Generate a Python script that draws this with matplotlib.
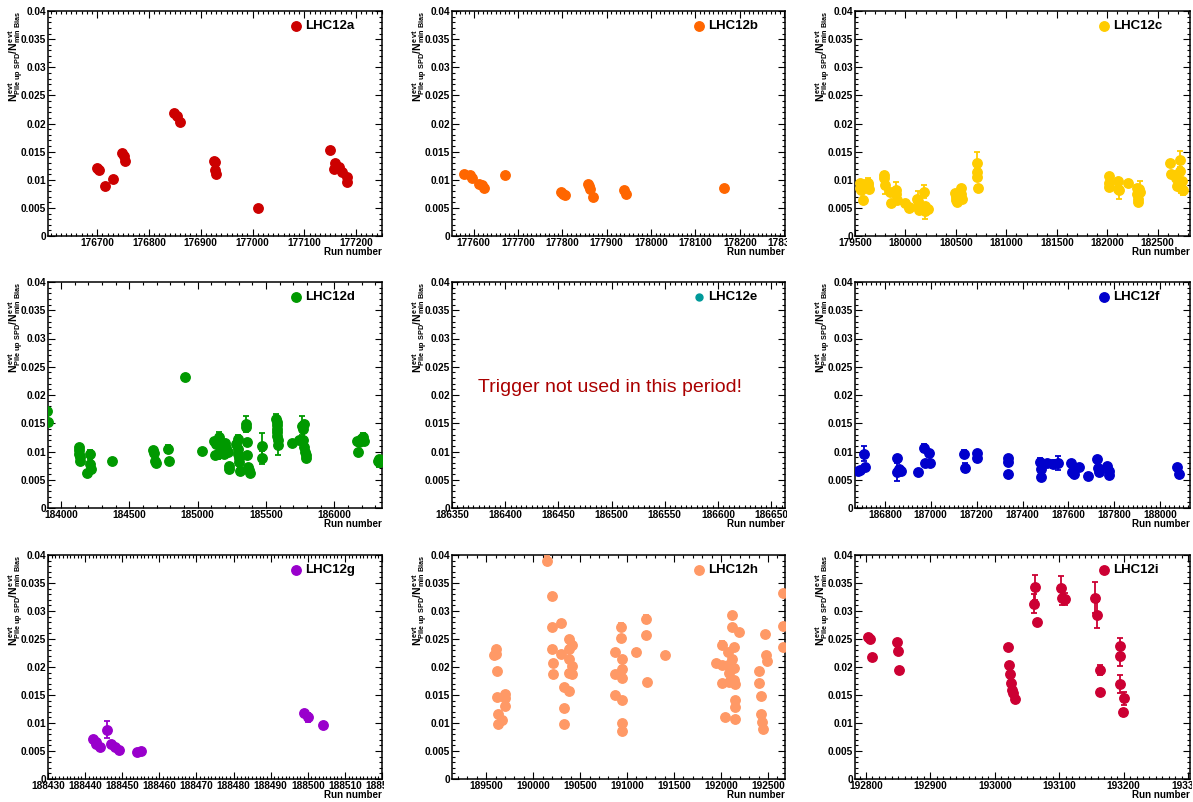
import matplotlib
matplotlib.use('Agg')
from matplotlib import pyplot as plt
from matplotlib.ticker import MultipleLocator, FuncFormatter
from matplotlib.transforms import Bbox

# ---------------- data ----------------
# LHC12a
runs_a = [176700, 176704, 176715, 176730, 176748, 176752, 176753, 176848, 176854, 176860,
          176925, 176927, 176928, 176930, 177011, 177149, 177157, 177160, 177167, 177173,
          177182, 177183]
vals_a = [0.0121, 0.0117, 0.0089, 0.0101, 0.0147, 0.0143, 0.0134, 0.0219, 0.0213, 0.0202,
          0.0133, 0.0131, 0.0117, 0.0110, 0.0050, 0.0153, 0.0120, 0.0129, 0.0123, 0.0113,
          0.0105, 0.0096]
errs_a = [0.0002, 0.0002, 0.0002, 0.0002, 0.0002, 0.0002, 0.0002, 0.0002, 0.0002, 0.0002,
          0.0002, 0.0002, 0.0002, 0.0002, 0.0002, 0.0002, 0.0002, 0.0002, 0.0002, 0.0002,
          0.0002, 0.0002]

# LHC12b
runs_b = [177579, 177591, 177596, 177611, 177619, 177623, 177671, 177797, 177801, 177805,
          177858, 177861, 177862, 177870, 177938, 177943, 178164]
vals_b = [0.0111, 0.0108, 0.0103, 0.0093, 0.0090, 0.0086, 0.0109, 0.0078, 0.0075, 0.0073,
          0.0093, 0.0089, 0.0083, 0.0069, 0.0082, 0.0074, 0.0085]
errs_b = [0.0002, 0.0002, 0.0002, 0.0002, 0.0002, 0.0002, 0.0002, 0.0002, 0.0002, 0.0002,
          0.0002, 0.0002, 0.0002, 0.0002, 0.0002, 0.0002, 0.0002]

# LHC12c
runs_c = [179546, 179553, 179560, 179579, 179599, 179616, 179626, 179632, 179639,
          179788, 179790, 179795,
          179848, 179854, 179904, 179908, 179912,
          179993, 180036, 180040,
          180112, 180120, 180125, 180136, 180188, 180195, 180192, 180225,
          180493, 180500, 180503, 180506, 180549, 180552, 180559,
          180711, 180711, 180713, 180715,
          182016, 182016, 182022,
          182105, 182105, 182112,
          182208,
          182297, 182312, 182297, 182303, 182305, 182320,
          182618, 182635, 182668, 182684, 182691, 182717, 182724, 182734, 182744, 182750]
vals_c = [0.0095, 0.0086, 0.0081, 0.0064, 0.0092, 0.0089, 0.0095, 0.0091, 0.0084,
          0.0108, 0.0103, 0.0090,
          0.0078, 0.0059, 0.0081, 0.0075, 0.0064,
          0.0059, 0.0052, 0.0050,
          0.0066, 0.0062, 0.0051, 0.0046, 0.0079, 0.0054, 0.0044, 0.0048,
          0.0076, 0.0069, 0.0064, 0.0060, 0.0085, 0.0075, 0.0066,
          0.0129, 0.0113, 0.0105, 0.0086,
          0.0106, 0.0095, 0.0088,
          0.0097, 0.0084, 0.0081,
          0.0094,
          0.0086, 0.0084, 0.0075, 0.0066, 0.0060, 0.0078,
          0.0129, 0.0110, 0.0109, 0.0104, 0.0089, 0.0136, 0.0116, 0.0086, 0.0098, 0.0081]
errs_c = [0.0003, 0.0003, 0.0003, 0.0003, 0.0004, 0.0003, 0.0009, 0.0004, 0.0004,
          0.0005, 0.0004, 0.0016,
          0.0003, 0.0003, 0.0015, 0.0005, 0.0004,
          0.0002, 0.0004, 0.0003,
          0.0004, 0.0018, 0.0004, 0.0005, 0.0011, 0.0005, 0.0013, 0.0004,
          0.0003, 0.0003, 0.0003, 0.0003, 0.0003, 0.0003, 0.0003,
          0.0021, 0.0006, 0.0005, 0.0004,
          0.0005, 0.0004, 0.0004,
          0.0004, 0.0005, 0.0016,
          0.0002,
          0.0004, 0.0004, 0.0004, 0.0004, 0.0004, 0.0020,
          0.0003, 0.0004, 0.0004, 0.0005, 0.0004, 0.0016, 0.0006, 0.0010, 0.0006, 0.0008]

# LHC12d
runs_d = [183901, 183906, 184130, 184133, 184135, 184138, 184140, 184189, 184209, 184214,
          184218, 184375, 184675, 184680, 184687, 184694, 184785, 184788, 184910, 185033,
          185117, 185124, 185136, 185146, 185158, 185166, 185178, 185190, 185202, 185210,
          185220, 185227, 185232,
          185283, 185293, 185296, 185298, 185300, 185303, 185308,
          185355, 185357, 185360, 185362, 185367, 185374, 185387,
          185472, 185472,
          185576, 185578, 185580, 185582, 185583, 185585, 185587, 185590,
          185690,
          185742, 185767, 185774, 185779, 185774, 185779, 185784, 185791, 185793,
          186167, 186172, 186184, 186196, 186208, 186216,
          186323, 186327, 186331]
vals_d = [0.0172, 0.0153, 0.0108, 0.0102, 0.0096, 0.0090, 0.0084, 0.0062, 0.0095, 0.0077,
          0.0069, 0.0084, 0.0102, 0.0098, 0.0084, 0.0079, 0.0104, 0.0084, 0.0231, 0.0101,
          0.0118, 0.0094, 0.0114, 0.0096, 0.0125, 0.0099, 0.0111, 0.0096, 0.0115, 0.0106,
          0.0099, 0.0074, 0.0069,
          0.0114, 0.0122, 0.0105, 0.0096, 0.0089, 0.0081, 0.0065,
          0.0149, 0.0144, 0.0116, 0.0093, 0.0072, 0.0068, 0.0062,
          0.0109, 0.0089,
          0.0157, 0.0152, 0.0147, 0.0140, 0.0135, 0.0127, 0.0120, 0.0112,
          0.0115,
          0.0121, 0.0146, 0.0140, 0.0149, 0.0120, 0.0108, 0.0099, 0.0093, 0.0089,
          0.0119, 0.0099, 0.0116, 0.0122, 0.0125, 0.0119,
          0.0084, 0.0087, 0.0081]
errs_d = [0.0002, 0.0002, 0.0003, 0.0003, 0.0003, 0.0003, 0.0003, 0.0002, 0.0008, 0.0004,
          0.0003, 0.0002, 0.0003, 0.0003, 0.0003, 0.0003, 0.0007, 0.0003, 0.0002, 0.0002,
          0.0004, 0.0004, 0.0004, 0.0010, 0.0010, 0.0004, 0.0004, 0.0004, 0.0004, 0.0004,
          0.0004, 0.0003, 0.0003,
          0.0004, 0.0007, 0.0004, 0.0004, 0.0004, 0.0004, 0.0006,
          0.0014, 0.0004, 0.0004, 0.0004, 0.0003, 0.0003, 0.0003,
          0.0024, 0.0012,
          0.0010, 0.0004, 0.0004, 0.0004, 0.0004, 0.0004, 0.0004, 0.0018,
          0.0002,
          0.0003, 0.0017, 0.0004, 0.0004, 0.0004, 0.0004, 0.0004, 0.0004, 0.0006,
          0.0004, 0.0003, 0.0004, 0.0006, 0.0007, 0.0004,
          0.0004, 0.0004, 0.0009]

# LHC12e: no data (trigger not used)
runs_e = []
vals_e = []
errs_e = []

# LHC12f
runs_f = [186681, 186691, 186710, 186714, 186855, 186855, 186862, 186869, 186945, 186971,
          186974, 186993, 186996, 187143, 187150, 187201, 187201, 187336, 187336, 187338,
          187478, 187479, 187479, 187505, 187531, 187556, 187611, 187614, 187623, 187646,
          187684, 187723, 187731, 187735, 187767, 187775, 187779, 188073, 188083]
vals_f = [0.0066, 0.0067, 0.0096, 0.0072, 0.0089, 0.0064, 0.0069, 0.0066, 0.0064, 0.0106,
          0.0080, 0.0098, 0.0080, 0.0096, 0.0071, 0.0098, 0.0088, 0.0089, 0.0082, 0.0060,
          0.0082, 0.0069, 0.0055, 0.0079, 0.0078, 0.0080, 0.0079, 0.0064, 0.0061, 0.0072,
          0.0057, 0.0086, 0.0071, 0.0064, 0.0074, 0.0066, 0.0058, 0.0072, 0.0060]
errs_f = [0.0002, 0.0002, 0.0013, 0.0003, 0.0003, 0.0016, 0.0004, 0.0004, 0.0003, 0.0007,
          0.0004, 0.0004, 0.0003, 0.0006, 0.0008, 0.0003, 0.0007, 0.0003, 0.0003, 0.0004,
          0.0006, 0.0004, 0.0003, 0.0003, 0.0007, 0.0012, 0.0004, 0.0004, 0.0003, 0.0006,
          0.0005, 0.0003, 0.0004, 0.0004, 0.0003, 0.0003, 0.0003, 0.0003, 0.0006]

# LHC12g
runs_g = [188442, 188443, 188443, 188444, 188446, 188447, 188448, 188449, 188454, 188455,
          188499, 188500, 188504]
vals_g = [0.0072, 0.0066, 0.0062, 0.0057, 0.0088, 0.0062, 0.0058, 0.0052, 0.0049, 0.0050,
          0.0117, 0.0110, 0.0096]
errs_g = [0.0002, 0.0002, 0.0003, 0.0006, 0.0015, 0.0002, 0.0002, 0.0002, 0.0002, 0.0002,
          0.0003, 0.0008, 0.0003]

# LHC12h
runs_h = [189584, 189607, 189610, 189617, 189617, 189624, 189628, 189671, 189699, 189699,
          189706,
          190149, 190206, 190206, 190206, 190209, 190209, 190299, 190299, 190327, 190330,
          190330, 190377, 190377, 190380, 190383, 190383, 190409, 190409, 190409,
          190868, 190872, 190872, 190939, 190939, 190942, 190945, 190945, 190947, 190947,
          190947,
          191096, 191196, 191196, 191210, 191406,
          191950, 192011, 192013, 192013, 192039, 192075, 192075, 192080, 192087, 192118,
          192118, 192120, 192139, 192139, 192139, 192146, 192146, 192146, 192146, 192189,
          192402, 192405, 192420, 192427, 192438, 192441, 192470, 192477, 192484,
          192662, 192662, 192662]
vals_h = [0.0221, 0.0232, 0.0224, 0.0192, 0.0147, 0.0116, 0.0099, 0.0105, 0.0151, 0.0144,
          0.0131,
          0.0390, 0.0326, 0.0272, 0.0233, 0.0207, 0.0188, 0.0278, 0.0224, 0.0164, 0.0126,
          0.0099, 0.0250, 0.0233, 0.0215, 0.0190, 0.0158, 0.0240, 0.0201, 0.0188,
          0.0227, 0.0187, 0.0150, 0.0272, 0.0252, 0.0214, 0.0196, 0.0180, 0.0141, 0.0100,
          0.0085,
          0.0226, 0.0285, 0.0258, 0.0173, 0.0221,
          0.0208, 0.0240, 0.0204, 0.0171, 0.0110, 0.0227, 0.0204, 0.0190, 0.0174, 0.0293,
          0.0271, 0.0215, 0.0235, 0.0198, 0.0176, 0.0169, 0.0141, 0.0128, 0.0107, 0.0263,
          0.0193, 0.0172, 0.0149, 0.0116, 0.0101, 0.0090, 0.0259, 0.0221, 0.0210,
          0.0332, 0.0274, 0.0235]
errs_h = [0.0003, 0.0003, 0.0003, 0.0003, 0.0003, 0.0003, 0.0003, 0.0003, 0.0003, 0.0003,
          0.0003,
          0.0008, 0.0006, 0.0004, 0.0004, 0.0004, 0.0004, 0.0006, 0.0004, 0.0004, 0.0004,
          0.0003, 0.0004, 0.0004, 0.0004, 0.0004, 0.0004, 0.0007, 0.0004, 0.0004,
          0.0003, 0.0003, 0.0003, 0.0006, 0.0006, 0.0004, 0.0005, 0.0004, 0.0004, 0.0003,
          0.0003,
          0.0006, 0.0007, 0.0004, 0.0003, 0.0003,
          0.0003, 0.0006, 0.0004, 0.0004, 0.0003, 0.0004, 0.0004, 0.0004, 0.0004, 0.0004,
          0.0004, 0.0004, 0.0004, 0.0004, 0.0004, 0.0004, 0.0004, 0.0004, 0.0004, 0.0004,
          0.0004, 0.0004, 0.0004, 0.0004, 0.0004, 0.0004, 0.0004, 0.0004, 0.0004,
          0.0004, 0.0004, 0.0004]

# LHC12i
runs_i = [192803, 192806, 192810, 192848, 192850, 192852, 193021, 193022, 193024, 193025,
          193026, 193028, 193031, 193061, 193063, 193066, 193103, 193105, 193109, 193156,
          193159, 193163, 193164, 193194, 193194, 193195, 193199, 193200]
vals_i = [0.0253, 0.0250, 0.0217, 0.0245, 0.0228, 0.0195, 0.0235, 0.0204, 0.0187, 0.0171,
          0.0159, 0.0153, 0.0143, 0.0313, 0.0342, 0.0280, 0.0341, 0.0323, 0.0322, 0.0324,
          0.0293, 0.0194, 0.0155, 0.0238, 0.0219, 0.0170, 0.0119, 0.0144]
errs_i = [0.0002, 0.0002, 0.0002, 0.0002, 0.0002, 0.0002, 0.0003, 0.0003, 0.0003, 0.0003,
          0.0003, 0.0003, 0.0003, 0.0017, 0.0023, 0.0003, 0.0022, 0.0012, 0.0011, 0.0027,
          0.0024, 0.0009, 0.0005, 0.0013, 0.0018, 0.0016, 0.0006, 0.0011]

periods = ['LHC12a', 'LHC12b', 'LHC12c', 'LHC12d', 'LHC12e', 'LHC12f', 'LHC12g', 'LHC12h', 'LHC12i']
colors = ['#cc0000', '#ff6600', '#ffcc00', '#009900', '#009999', '#0000cc', '#9900cc', '#ff9966', '#cc0033']
all_runs = [runs_a, runs_b, runs_c, runs_d, runs_e, runs_f, runs_g, runs_h, runs_i]
all_vals = [vals_a, vals_b, vals_c, vals_d, vals_e, vals_f, vals_g, vals_h, vals_i]
all_errs = [errs_a, errs_b, errs_c, errs_d, errs_e, errs_f, errs_g, errs_h, errs_i]
xlims = [(176605, 177250), (177551, 178302), (179500, 182820),
         (183905, 186350), (186350, 186663), (186670, 188130),
         (188430, 188520), (189137, 192680), (192783, 193303)]
x_major = [100, 100, 500, 500, 50, 200, 10, 500, 100]
x_minor = [10, 10, 100, 100, 5, 20, 1, 100, 10]

# ---------------- style ----------------
plt.rcParams['font.family'] = ['Liberation Sans', 'DejaVu Sans']
plt.rcParams['font.weight'] = 'bold'
plt.rcParams['mathtext.fontset'] = 'custom'
plt.rcParams['mathtext.rm'] = 'Liberation Sans:bold'
plt.rcParams['mathtext.it'] = 'Liberation Sans:bold'
plt.rcParams['mathtext.bf'] = 'Liberation Sans:bold'

W, H = 1193, 802
fig = plt.figure(figsize=(W / 100, H / 100), dpi=100)

# pixel boxes of the frames
col_px = [(48, 382), (452, 785), (855, 1190)]
row_px = [(11, 236), (282, 508), (555, 779)]

ylab = r'$N^{evt}_{Pile\ up\ SPD}/N^{evt}_{min\ Bias}$'

for k in range(9):
    r, c = divmod(k, 3)
    x0, x1 = col_px[c]
    y0, y1 = row_px[r]
    ax = fig.add_axes([x0 / W, 1 - y1 / H, (x1 - x0) / W, (y1 - y0) / H])
    col = colors[k]

    # points with error bars
    if all_runs[k]:
        ax.errorbar(all_runs[k], all_vals[k], yerr=all_errs[k], fmt='o', ms=6.8,
                    color=col, mec=col, ecolor=col, elinewidth=1.3, capsize=2.2,
                    capthick=1.3, clip_on=True, zorder=3)

    ax.set_xlim(*xlims[k])
    ax.set_ylim(0, 0.04)
    ax.xaxis.set_major_locator(MultipleLocator(x_major[k]))
    ax.xaxis.set_minor_locator(MultipleLocator(x_minor[k]))
    ax.yaxis.set_major_locator(MultipleLocator(0.005))
    ax.yaxis.set_minor_locator(MultipleLocator(0.001))
    ax.yaxis.set_major_formatter(FuncFormatter(lambda v, p: '%g' % round(v, 4)))
    ax.xaxis.set_major_formatter(FuncFormatter(lambda v, p: '%d' % round(v)))
    ax.tick_params(which='both', direction='in', top=True, right=True, width=0.8,
                   labelsize=7.3)
    ax.tick_params(which='major', length=5)
    ax.tick_params(which='minor', length=2.5)
    ax.tick_params(axis='x', pad=1.5)
    ax.tick_params(axis='y', pad=1.5)
    for s in ax.spines.values():
        s.set_linewidth(1.1)

    # y title (top aligned like ROOT)
    ax.set_ylabel(ylab, fontsize=7.5, loc='top')
    ax.yaxis.set_label_coords(-0.066, 1.0)

    # x title
    ax.text(1.0, -16 / (y1 - y0), 'Run number', transform=ax.transAxes, ha='right',
            va='center', fontsize=7, fontweight='bold')

    # legend entry
    ms = 5 if k == 4 else 6.8
    ax.plot([0.742], [0.933], 'o', ms=ms, color=col, transform=ax.transAxes, clip_on=False)
    ax.text(0.77, 0.933, periods[k], transform=ax.transAxes, ha='left', va='center',
            fontsize=9.5, fontweight='bold')

    if k == 4:
        ax.text(0.473, 0.535, 'Trigger not used in this period!', transform=ax.transAxes,
                ha='center', va='center', fontsize=14, fontweight='normal', color='#aa0000')

    # tick labels are cut just right of the frame, as in the original
    box = Bbox.from_extents(x0 - 60, 0, x1 + 2, H)
    for lab in ax.get_xticklabels():
        lab.set_clip_box(box)
        lab.set_clip_on(True)

fig.savefig('out.png', dpi=100)
